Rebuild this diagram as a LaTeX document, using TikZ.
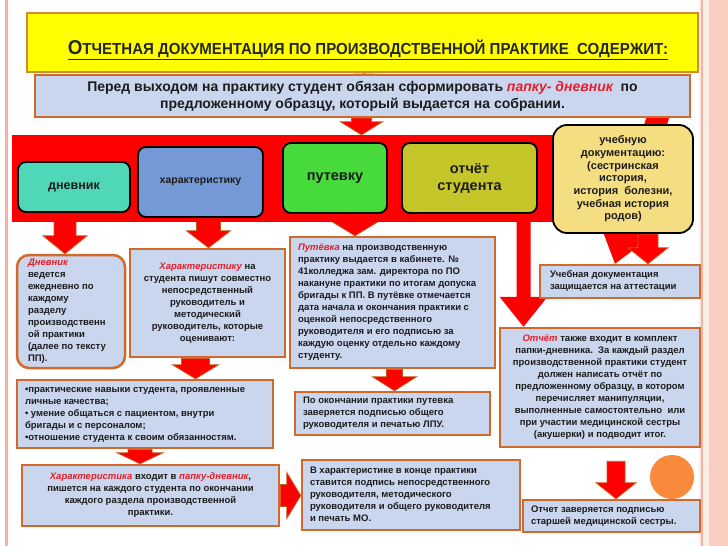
\documentclass[tikz,border=0pt]{standalone}
\usepackage{fontspec}
\setmainfont{Liberation Sans}
\usetikzlibrary{calc}
\pgfdeclarelayer{frame}\pgfdeclarelayer{arr}\pgfdeclarelayer{bandl}
\pgfsetlayers{frame,arr,bandl,main}
\definecolor{bandred}{HTML}{FF0000}
\definecolor{boxblue}{HTML}{C9D6EE}
\definecolor{boxedge}{HTML}{D2692A}
\definecolor{arrowedge}{HTML}{C65A1E}
\definecolor{txt}{HTML}{1C1C1C}
\definecolor{redword}{HTML}{E3202B}
\definecolor{titleyellow}{HTML}{FFFF00}
\definecolor{titleedge}{HTML}{D08A30}
\definecolor{cdn}{HTML}{50D7B7}
\definecolor{cchar}{HTML}{7598D6}
\definecolor{cput}{HTML}{47DA3B}
\definecolor{cotch}{HTML}{C5C62A}
\definecolor{cuch}{HTML}{F5DE82}
\definecolor{circ}{HTML}{F98A3C}
\definecolor{framepink}{HTML}{F3B2A4}
\definecolor{framelight}{HTML}{FDEBE5}
\definecolor{framesalmon}{HTML}{F9CDBF}
\definecolor{titletxt}{HTML}{262626}
\newcommand{\rw}[1]{{\color{redword}\itshape #1}}
\newcommand{\ltext}[2]{\makebox[#1][l]{\begin{tabular}{@{}l@{}}#2\end{tabular}}}
\newcommand{\blockarrow}[6][]{%
  \coordinate (ba-s) at (#2);
  \coordinate (ba-e) at (#3);
  \coordinate (ba-h) at ($(ba-e)!#6!(ba-s)$);
  \path[#1] ($(ba-s)!#4!90:(ba-e)$) -- ($(ba-h)!#4!-90:(ba-s)$) -- ($(ba-h)!#5!-90:(ba-s)$)
    -- (ba-e) -- ($(ba-h)!#5!90:(ba-s)$) -- ($(ba-h)!#4!90:(ba-s)$) -- ($(ba-s)!#4!-90:(ba-e)$) -- cycle;
}
\begin{document}
\begin{tikzpicture}[x=1pt,y=-1pt,
  font=\fontsize{9.5}{12}\selectfont\bfseries, text=txt, line join=miter,
  bandbox/.style={draw=black, line width=1.8pt, rounded corners=8pt, inner sep=0pt},
  tbox/.style={draw=boxedge, line width=2.5pt, fill=boxblue, inner sep=0pt},
  redarrow/.style={fill=bandred, draw=arrowedge, line width=0.8pt},
  plainred/.style={fill=bandred},
  ylarrow/.style={fill=titleyellow, draw=titleedge, line width=1pt}]
\useasboundingbox (0,0) rectangle (728,546);
\begin{pgfonlayer}{frame}
  \fill[white] (0,0) rectangle (728,546);
  \fill[framepink] (5,0) rectangle (8,546);
  \fill[framelight] (699,0) rectangle (728,546);
  \fill[framepink] (701,0) rectangle (703,546);
  \fill[framesalmon] (709,0) rectangle (728,546);
\end{pgfonlayer}
% title
\node[draw=titleedge, line width=1.8pt, fill=titleyellow, minimum width=671pt, minimum height=59pt] (title) at (362.5,42.5) {};
\node[font=\fontsize{16}{16}\selectfont\bfseries, text=titletxt, inner sep=0pt] (titletext) at (368,50)
  {\scalebox{0.94}[1]{\underline{{\fontsize{20}{20}\selectfont О}ТЧЕТНАЯ ДОКУМЕНТАЦИЯ ПО ПРОИЗВОДСТВЕННОЙ ПРАКТИКЕ\ \ СОДЕРЖИТ:}}};
% blue box
\node[tbox, line width=2pt, minimum width=655pt, minimum height=42pt, align=center,
  font=\fontsize{14}{17}\selectfont\bfseries] (blue) at (362.5,96)
  {Перед выходом на практику студент обязан сформировать \rw{папку- дневник}\ \ по\\
   предложенному образцу, который выдается на собрании.};
% band
\begin{pgfonlayer}{bandl}
  \node[fill=bandred, minimum width=543pt, minimum height=87pt, inner sep=0pt] (band) at (283.5,178.5) {};
\end{pgfonlayer}
\node[bandbox, fill=cdn, minimum width=112pt, minimum height=50pt, font=\fontsize{12.5}{14}\selectfont\bfseries] (dn) at (74,187) {дневник};
\node[bandbox, fill=cchar, minimum width=125pt, minimum height=70pt, font=\fontsize{10.5}{12}\selectfont\bfseries] (ch) at (200.5,182) {характеристику};
\node[bandbox, fill=cput, minimum width=104pt, minimum height=70pt, font=\fontsize{14.5}{16}\selectfont\bfseries] (pt) at (335,178) {путевку};
\node[bandbox, fill=cotch, minimum width=135pt, minimum height=70pt, align=center, font=\fontsize{14.5}{17}\selectfont\bfseries] (ot) at (469.5,178) {отчёт\\студента};
\node[bandbox, rounded corners=14pt, fill=cuch, minimum width=140pt, minimum height=108pt, align=center, font=\fontsize{11}{12.7}\selectfont\bfseries] (uch) at (623,179)
  {учебную\\документацию:\\(сестринская\\история,\\история\ \ болезни,\\учебная история\\родов)};
% text boxes
\node[tbox, rounded corners=12pt, minimum width=108pt, minimum height=113pt] (dnbox) at (71,311.5)
  {\ltext{86pt}{\rw{Дневник}\\ведется\\ежедневно по\\каждому\\разделу\\производственн\\ой практики\\(далее по тексту\\ПП).}};
\node[tbox, minimum width=155pt, minimum height=108pt, align=center] (chbox) at (207.5,303)
  {\rw{Характеристику} на\\студента пишут совместно\\непосредственный\\руководитель и\\методический\\руководитель, которые\\оценивают:};
\node[tbox, minimum width=205pt, minimum height=131pt] (ptbox) at (392.5,302.5)
  {\ltext{189pt}{\rw{Путёвка} на производственную\\практику выдается в кабинете. №\\41колледжа зам. директора по ПО\\накануне практики по итогам допуска\\бригады к ПП. В путёвке отмечается\\дата начала и окончания практики с\\оценкой непосредственного\\руководителя и его подписью за\\каждую оценку отдельно каждому\\студенту.}};
\node[tbox, minimum width=160pt, minimum height=33pt] (uch2) at (620,281.5)
  {\ltext{140pt}{Учебная документация\\защищается на аттестации}};
\node[tbox, minimum width=200pt, minimum height=119pt, align=center] (otbox) at (600,387.5)
  {\rw{Отчёт} также входит в комплект\\папки-дневника.\ \ За каждый раздел\\производственной практики студент\\должен написать отчёт по\\предложенному образцу, в котором\\перечисляет манипуляции,\\выполненные самостоятельно\ \ или\\при участии медицинской сестры\\(акушерки) и подводит итог.};
\node[tbox, minimum width=256pt, minimum height=68pt] (bullbox) at (145,414)
  {\ltext{240pt}{•практические навыки студента, проявленные\\личные качества;\\• умение общаться с пациентом, внутри\\бригады и с персоналом;\\•отношение студента к своим обязанностям.}};
\node[tbox, minimum width=195pt, minimum height=43pt] (lpubox) at (392.5,413.5)
  {\ltext{179pt}{По окончании практики путевка\\заверяется подписью общего\\руководителя и печатью ЛПУ.}};
\node[tbox, minimum width=257pt, minimum height=61pt, align=center] (chinbox) at (150.5,495.5)
  {\rw{Характеристика} входит в \rw{папку-дневник},\\пишется на каждого студента по окончании\\каждого раздела производственной\\практики.};
\node[tbox, minimum width=218pt, minimum height=70pt] (vchbox) at (411,495)
  {\ltext{202pt}{В характеристике в конце практики\\ставится подпись непосредственного\\руководителя, методического\\руководителя и общего руководителя\\и печать МО.}};
\node[tbox, minimum width=177pt, minimum height=32pt] (zavbox) at (611.5,516)
  {\ltext{161pt}{Отчет заверяется подписью\\старшей медицинской сестры.}};
\node[circle, fill=circ, minimum size=44pt, inner sep=0pt] (dot) at (672,477) {};
% arrows
\begin{pgfonlayer}{arr}
  \blockarrow[ylarrow]{[xshift=2pt]title.south}{ba-s |- blue.north}{9pt}{22pt}{16pt}
  \blockarrow[redarrow]{[xshift=-1pt]blue.south}{ba-s |- band.north}{10pt}{21pt}{13pt}
  \blockarrow[plainred]{[xshift=-32pt,yshift=5pt]blue.south east}{[xshift=-5pt]uch2.north}{11pt}{30pt}{40pt}
  \blockarrow[redarrow]{[xshift=25pt]uch.south}{ba-s |- uch2.north}{10pt}{20pt}{16pt}
  \blockarrow[redarrow]{[xshift=-9pt]dn.south}{ba-s |- dnbox.north}{11pt}{22pt}{18pt}
  \blockarrow[redarrow]{[xshift=8pt]ch.south}{ba-s |- chbox.north}{12pt}{22pt}{17pt}
  \blockarrow[redarrow]{[xshift=20pt]pt.south}{ba-s |- ptbox.north}{11pt}{23pt}{14pt}
  \blockarrow[plainred]{[xshift=54pt]ot.south}{ba-s |- otbox.north}{7pt}{24pt}{30pt}
  \blockarrow[redarrow]{[xshift=-12pt]chbox.south}{ba-s |- bullbox.north}{14pt}{23pt}{14pt}
  \blockarrow[redarrow]{[xshift=2pt]ptbox.south}{ba-s |- lpubox.north}{8pt}{22pt}{14pt}
  \blockarrow[redarrow]{[xshift=-5pt]bullbox.south}{ba-s |- chinbox.north}{12pt}{23pt}{11pt}
  \blockarrow[redarrow]{chinbox.east}{ba-s -| vchbox.west}{11pt}{23pt}{14pt}
  \blockarrow[redarrow]{[xshift=16pt,yshift=-13pt]otbox.south}{ba-s |- zavbox.north}{9pt}{20pt}{16pt}
\end{pgfonlayer}
\end{tikzpicture}
\end{document}
